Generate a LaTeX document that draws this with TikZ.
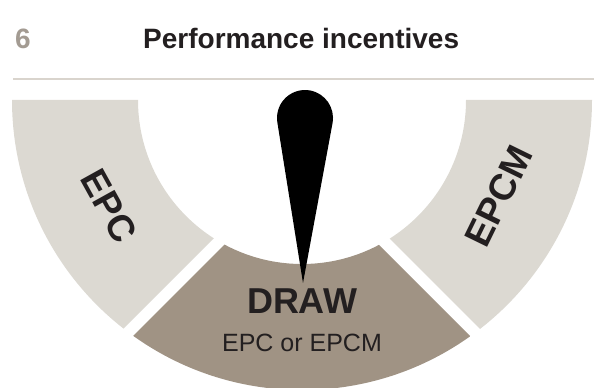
\documentclass[tikz,border=0pt]{standalone}
\usepackage{fontspec}
\setmainfont{Liberation Sans}
\usepackage{tikz}
\definecolor{ringgray}{HTML}{DCD9D2}
\definecolor{drawtaupe}{HTML}{A09384}
\definecolor{inkdark}{HTML}{231F20}
\definecolor{numgray}{HTML}{A39B92}
\definecolor{rulegray}{HTML}{D9D4CD}
\tikzstyle{sideseg} = [fill=ringgray]
\tikzstyle{midseg} = [fill=drawtaupe]
\tikzstyle{title} = [anchor=base west, inner sep=0pt, font=\fontsize{28}{28}\selectfont\bfseries]
\tikzstyle{seglabel} = [inner sep=0pt, text=inkdark, font=\fontsize{37}{37}\selectfont\bfseries]
\tikzstyle{midlabel} = [inner sep=0pt, text=inkdark, font=\fontsize{36}{36}\selectfont\bfseries]
\tikzstyle{sublabel} = [inner sep=0pt, text=inkdark, font=\fontsize{25}{25}\selectfont]
\tikzstyle{needle} = [fill=black]

\begin{document}
\begin{tikzpicture}[x=1pt, y=1pt, node distance=42pt]
    \useasboundingbox (0,0) rectangle (597,388);
    \coordinate (ring) at (302,288);

    % heading
    \node[title, text=numgray](num) at (15,339) {6};
    \node[title, text=inkdark](head) at (143,339) {Performance incentives};
    \coordinate (ruleL) at (13,309);
    \coordinate (ruleR) at (594,309);
    \draw[rulegray, line width=2pt] (ruleL) -- (ruleR);

    % gauge segments
    \begin{scope}
        \clip (-10,-74) -- (400,336) -- (-10,336) -- cycle;
        \fill[sideseg] (12,288) arc[start angle=180, end angle=360, radius=290]
            -- (466,288) arc[start angle=0, end angle=-180, radius=164] -- cycle;
    \end{scope}
    \begin{scope}
        \clip (71,-10) -- (301.5,220.5) -- (532,-10) -- cycle;
        \fill[midseg] (12,288) arc[start angle=180, end angle=360, radius=290]
            -- (466,288) arc[start angle=0, end angle=-180, radius=164] -- cycle;
    \end{scope}
    \begin{scope}
        \clip (203,336) -- (549,-10) -- (610,-10) -- (610,336) -- cycle;
        \fill[sideseg] (12,288) arc[start angle=180, end angle=360, radius=290]
            -- (466,288) arc[start angle=0, end angle=-180, radius=164] -- cycle;
    \end{scope}

    \node[seglabel, rotate=-61](epc) at ([shift={(208.8:220)}]ring) {EPC};
    \node[seglabel, rotate=64](epcm) at ([shift={(-26:219)}]ring) {EPCM};
    \node[midlabel](drawlbl) at (302,87) {DRAW};
    \node[sublabel, below of=drawlbl](mode) {EPC or EPCM};

    % needle
    \coordinate (tip) at (303,105);
    \coordinate (hub) at (305,270);
    \fill[needle] (tip) -- ([shift={(-10.5:28)}]hub)
        arc[start angle=-10.5, end angle=189.1, radius=28] -- cycle;
\end{tikzpicture}
\end{document}
